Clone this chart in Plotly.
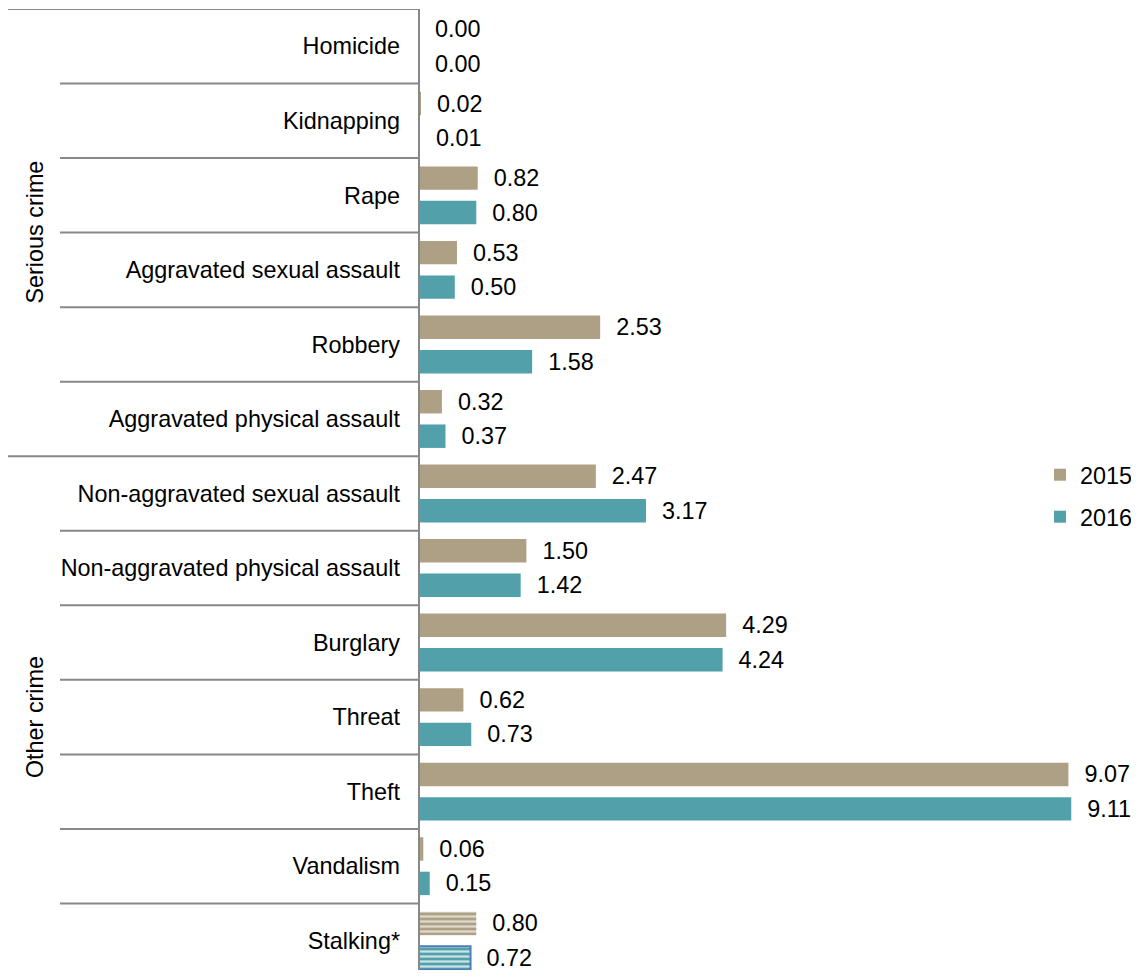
import plotly.graph_objects as go

categories = ["Homicide", "Kidnapping", "Rape", "Aggravated sexual assault", "Robbery",
              "Aggravated physical assault", "Non-aggravated sexual assault",
              "Non-aggravated physical assault", "Burglary", "Threat", "Theft",
              "Vandalism", "Stalking*"]
values_2015 = [0.00, 0.02, 0.82, 0.53, 2.53, 0.32, 2.47, 1.50, 4.29, 0.62, 9.07, 0.06, 0.80]
values_2016 = [0.00, 0.01, 0.80, 0.50, 1.58, 0.37, 3.17, 1.42, 4.24, 0.73, 9.11, 0.15, 0.72]
groups = [("Serious crime", 0, 5), ("Other crime", 6, 12)]

C15 = "#ADA084"
C16 = "#52A1AA"
FONT = "Liberation Sans, Arial, sans-serif"
FS = 23.4
n = len(categories)
last = n - 1

OFF = 8  # page body margin
PAGE_W, PAGE_H = 1139, 978
FIG_W, FIG_H = PAGE_W - 2 * OFF, PAGE_H - 2 * OFF
AXIS_X = 419 - OFF
TOP = 1
L = AXIS_X
W = FIG_W - L
H = FIG_H - TOP
CAT_PX = 970 / 13.0
cut = (PAGE_H - (FIG_H + OFF)) / CAT_PX

def px_x(page_px):
    return (page_px - OFF - L) / W

def px_y(page_py):
    return 1 - (page_py - OFF - TOP) / H

pat = ["" if i != last else "-" for i in range(n)]
lw16 = [0 if i != last else 2 for i in range(n)]
lc16 = [C16 if i != last else "#4A7EBB" for i in range(n)]
LABEL = "\u00a0\u00a0%{x:.2f}"

fig = go.Figure()
fig.add_trace(go.Bar(
    y=categories, x=values_2015, orientation="h", name="2015",
    marker=dict(color=C15, line=dict(width=0),
                pattern=dict(shape=pat, fgcolor="white", size=5, solidity=0.45,
                             fillmode="overlay", fgopacity=0.6)),
    texttemplate=LABEL, textposition="outside",
    textfont=dict(family=FONT, size=FS, color="black"),
    constraintext="none", cliponaxis=False, legend="legend",
))
fig.add_trace(go.Bar(
    y=categories, x=values_2016, orientation="h", name="2016",
    marker=dict(color=C16, line=dict(width=lw16, color=lc16),
                pattern=dict(shape=pat, fgcolor="white", size=5, solidity=0.45,
                             fillmode="overlay", fgopacity=0.7)),
    texttemplate=LABEL, textposition="outside",
    textfont=dict(family=FONT, size=FS, color="black"),
    constraintext="none", cliponaxis=False, legend="legend2",
))

shapes = []
group_bounds = {g[1] for g in groups}
for i in range(n):
    yb = i - 0.5
    x0 = px_x(8) if i in group_bounds else px_x(60)
    shapes.append(dict(type="line", xref="paper", yref="y", x0=x0, x1=0, y0=yb, y1=yb,
                       line=dict(color="#888888", width=2)))
shapes.append(dict(type="line", xref="paper", yref="paper", x0=0, x1=0, y0=0, y1=1,
                   line=dict(color="#888888", width=2)))

annotations = []
for name, a, b in groups:
    annotations.append(dict(text=name, xref="paper", yref="y", x=px_x(35),
                            y=(a + b) / 2, textangle=-90, showarrow=False,
                            font=dict(family=FONT, size=FS, color="black"),
                            xanchor="center", yanchor="middle"))

legend_common = dict(xanchor="left", yanchor="middle", bgcolor="rgba(0,0,0,0)",
                     font=dict(family=FONT, size=FS, color="black"))

fig.update_layout(
    width=FIG_W, height=FIG_H,
    margin=dict(l=L, r=0, t=TOP, b=0, pad=0, autoexpand=False),
    paper_bgcolor="white", plot_bgcolor="white",
    barmode="group", bargap=0.075, bargroupgap=0.32,
    font=dict(family=FONT, size=FS, color="black"),
    shapes=shapes, annotations=annotations,
    showlegend=True,
    legend=dict(x=px_x(1040), y=px_y(475), **legend_common),
    legend2=dict(x=px_x(1040), y=px_y(517), **legend_common),
    xaxis=dict(range=[0, W / 71.6], visible=False, showgrid=False, zeroline=False),
    yaxis=dict(autorange=False, range=[n - 0.5 - cut, -0.5], showgrid=False, zeroline=False,
               showline=False, ticks="", ticklabelstandoff=18,
               tickfont=dict(family=FONT, size=FS, color="black")),
)

fig.write_html("out.html")
